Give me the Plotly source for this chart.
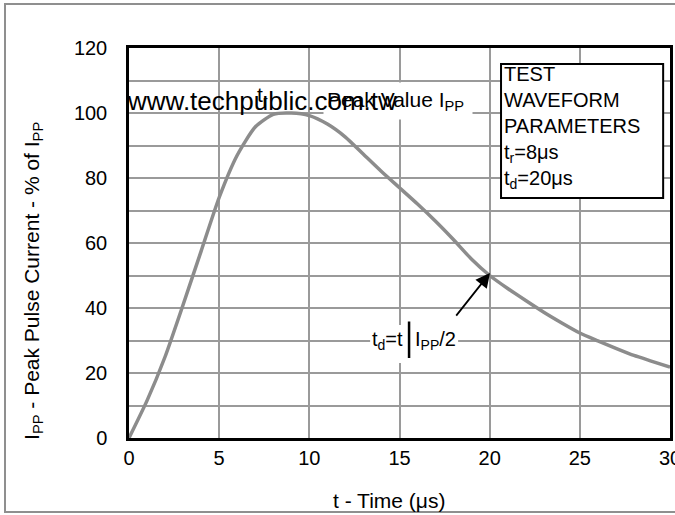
import plotly.graph_objects as go

# ---- data ----
time_us = [0, 1, 2, 3, 4, 5, 6, 7, 8, 9, 10, 11, 12, 13, 14, 15, 16, 17, 18, 19, 20,
           21, 22, 23, 24, 25, 26, 27, 28, 29, 30]
current_pct = [0, 11.5, 25, 41, 57.5, 74, 87, 95.7, 99.6, 100, 99.2, 96.6, 92.6, 87.3, 82,
               77, 72, 66.7, 61, 55, 50, 46, 42.3, 38.7, 35.4, 32.3, 29.9, 27.6, 25.4, 23.6, 21.8]

x_ticks = [0, 5, 10, 15, 20, 25, 30]
y_ticks = [0, 10, 20, 30, 40, 50, 60, 70, 80, 90, 100, 110, 120]
y_ticktext = ["0", "", "20", "", "40", "", "60", "", "80", "", "100", "", "120"]

legend_lines = ["TEST", "WAVEFORM", "PARAMETERS", "t<sub>r</sub>=8μs", "t<sub>d</sub>=20μs"]

FONT = "Arial, Liberation Sans, sans-serif"
GRID = "#9a9a9a"

fig = go.Figure()
fig.add_trace(go.Scatter(
    x=time_us, y=current_pct, mode="lines",
    line=dict(color="#8c8c8c", width=3.5, shape="spline", smoothing=0.6),
    hoverinfo="skip", showlegend=False,
))

fig.update_layout(
    width=675, height=515,
    margin=dict(l=129, r=5, t=48, b=77),
    paper_bgcolor="white", plot_bgcolor="white",
    font=dict(family=FONT, size=20, color="black"),
    showlegend=False,
    xaxis=dict(
        range=[0, 30], tickvals=x_ticks, ticktext=[str(v) for v in x_ticks],
        showgrid=True, gridcolor=GRID, gridwidth=1.5,
        showline=True, linecolor="black", linewidth=2.5, mirror=True,
        ticks="outside", ticklen=0, tickcolor="rgba(0,0,0,0)",
        zeroline=False, tickfont=dict(size=20), ticklabeloverflow="allow",
        automargin=False,
    ),
    yaxis=dict(
        range=[0, 120], tickvals=y_ticks, ticktext=y_ticktext,
        showgrid=True, gridcolor=GRID, gridwidth=1.5,
        showline=True, linecolor="black", linewidth=2.5, mirror=True,
        ticks="outside", ticklen=15, tickcolor="rgba(0,0,0,0)",
        zeroline=False, tickfont=dict(size=20), ticklabeloverflow="allow",
        automargin=False,
    ),
)

# outer frame (grey)
fig.add_shape(type="rect", xref="paper", yref="paper",
              x0=-0.2292, x1=1.02, y0=-0.1897, y1=1.1128,
              line=dict(color="#8f8f8f", width=2), fillcolor="rgba(0,0,0,0)", layer="below")

# parameter box
fig.add_shape(type="rect", xref="x", yref="y",
              x0=20.63, x1=29.62, y0=73.85, y1=115.1,
              line=dict(color="black", width=2), fillcolor="white", layer="above")

# white box behind the td label
fig.add_shape(type="rect", xref="x", yref="y",
              x0=13.37, x1=18.25, y0=23.08, y1=34.77,
              line=dict(width=0), fillcolor="white", layer="above")

# Peak Value label with white background
fig.add_annotation(x=10.76, y=103.8, xref="x", yref="y", xanchor="left", yanchor="middle",
                   text="Peak Value I<sub>PP</sub>", showarrow=False,
                   font=dict(size=21, color="black"), bgcolor="white",
                   width=142, height=30, align="left", borderpad=3)

# t_r label near peak
fig.add_annotation(x=7.43, y=105.2, xref="x", yref="y", xanchor="center", yanchor="middle",
                   text="t<sub>r</sub>", showarrow=False, font=dict(size=21, color="black"))

# watermark text
fig.add_annotation(x=-0.0074, y=0.864, xref="paper", yref="paper", xanchor="left", yanchor="middle",
                   text="www.techpublic.com.tw", showarrow=False,
                   font=dict(size=26, color="black"))

# parameter text
fig.add_annotation(x=20.74, y=115.6, xref="x", yref="y", xanchor="left", yanchor="top",
                   text="<br>".join(legend_lines), showarrow=False, align="left",
                   font=dict(size=20, color="black"), borderpad=0)

# td label (two parts around a vertical bar)
fig.add_annotation(x=15.25, y=30.15, xref="x", yref="y", xanchor="right", yanchor="middle",
                   text="t<sub>d</sub>=t", showarrow=False,
                   font=dict(size=20, color="black"), borderpad=0)
fig.add_annotation(x=15.81, y=30.15, xref="x", yref="y", xanchor="left", yanchor="middle",
                   text="I<sub>PP</sub>/2", showarrow=False,
                   font=dict(size=20, color="black"), borderpad=0)
# vertical bar in td label
fig.add_annotation(x=15.53, y=24.6, ax=15.53, ay=36.3, xref="x", yref="y",
                   axref="x", ayref="y", text="", showarrow=True, arrowhead=0,
                   arrowwidth=2.5, arrowcolor="black")
# pointer arrow
fig.add_annotation(x=20.02, y=50.8, ax=18.08, ay=37.2, xref="x", yref="y",
                   axref="x", ayref="y", text="", showarrow=True, arrowhead=2,
                   arrowsize=1.6, arrowwidth=1.8, arrowcolor="black", standoff=0)

# axis titles
fig.add_annotation(x=-0.1775, y=0.4026, xref="paper", yref="paper", textangle=-90,
                   xanchor="center", yanchor="middle",
                   text="I<sub>PP</sub> - Peak Pulse Current - % of I<sub>PP</sub>",
                   showarrow=False, font=dict(size=21, color="black"))
fig.add_annotation(x=0.4806, y=-0.159, xref="paper", yref="paper",
                   xanchor="center", yanchor="middle",
                   text="t - Time (μs)", showarrow=False, font=dict(size=21, color="black"))

fig.write_html("out.html", config={"displayModeBar": False},
               post_script="document.body.style.margin='0';")
